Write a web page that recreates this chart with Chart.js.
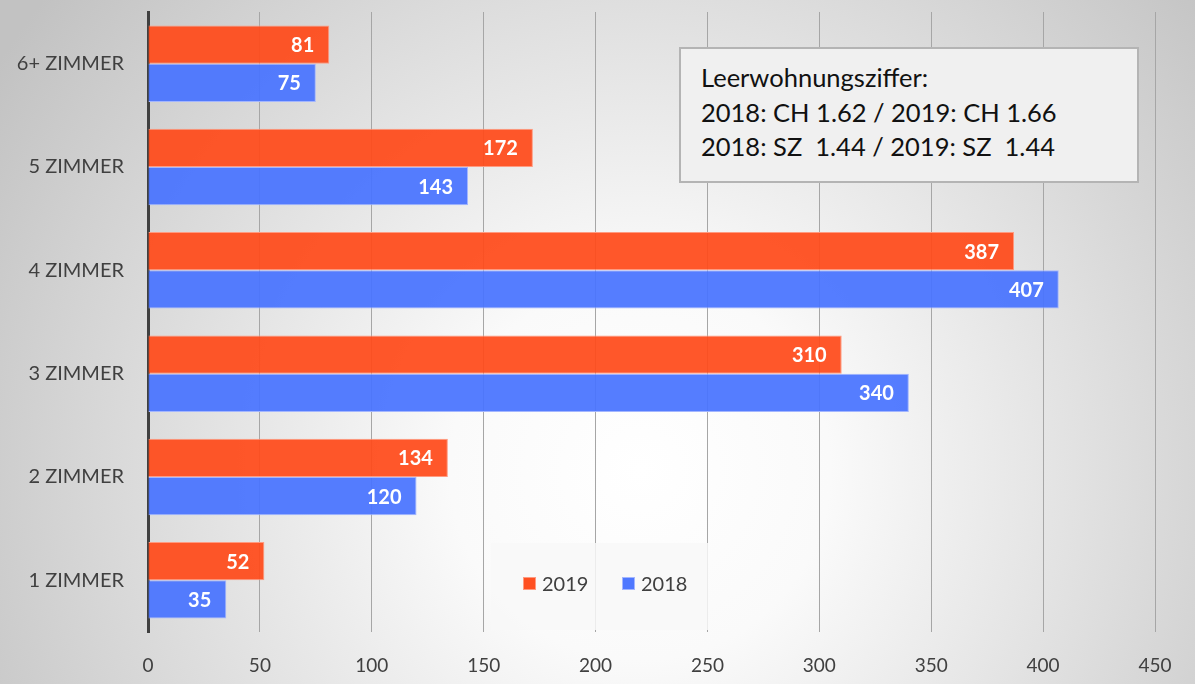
<!DOCTYPE html>
<html lang="de">
<head>
<meta charset="utf-8">
<title>Leerwohnungen nach Zimmerzahl</title>
<script src="https://cdn.jsdelivr.net/npm/chart.js@4/dist/chart.umd.min.js"></script>
<style>
  html, body { margin: 0; padding: 0; background: #fff; }
  #wrap { position: relative; width: 1195px; height: 684px; }
  #notiz {
    position: absolute; left: 679px; top: 47px; width: 460px; height: 136px;
    background: #f0f0f0; border: 2px solid #b4b4b4; box-sizing: border-box;
    font-family: Lato, "Open Sans", sans-serif; font-size: 25.5px; line-height: 34.5px;
    color: #111; padding: 11px 0 0 20px;
  }
</style>
</head>
<body>
<div id="wrap">
  <canvas id="g-zimmer" width="1195" height="684"></canvas>
  <div id="notiz"></div>
</div>
<script>
// Leerstehende Wohnungen nach Zimmerzahl, 2019 vs 2018
const kategorien = ['6+ ZIMMER', '5 ZIMMER', '4 ZIMMER', '3 ZIMMER', '2 ZIMMER', '1 ZIMMER'];
const werte2019 = [81, 172, 387, 310, 134, 52];
const werte2018 = [75, 143, 407, 340, 120, 35];
const xTicks = [0, 50, 100, 150, 200, 250, 300, 350, 400, 450];
const notizZeilen = [
  'Leerwohnungsziffer:',
  '2018: CH 1.62 / 2019: CH 1.66',
  '2018: SZ\u00a0 1.44 / 2019: SZ\u00a0 1.44',
];

const SCHRIFT = 'Lato, "Open Sans", sans-serif';
const GRAU = '#404040';

document.getElementById('notiz').innerHTML = notizZeilen.join('<br>');

// Hintergrund: grauer Verlauf, in der Mitte hell
const hintergrund = {
  id: 'hintergrund',
  beforeDraw(chart) {
    const { ctx, width, height } = chart;
    const g = ctx.createRadialGradient(640, 470, 0, 640, 470, 760);
    g.addColorStop(0, '#ffffff');
    g.addColorStop(0.25, '#fafafa');
    g.addColorStop(1, '#c2c2c2');
    ctx.save();
    ctx.fillStyle = g;
    ctx.fillRect(0, 0, width, height);
    ctx.restore();
  }
};

// Werte weiss und fett innen am Balkenende
const werteLabels = {
  id: 'werteLabels',
  afterDatasetsDraw(chart) {
    const { ctx } = chart;
    ctx.save();
    ctx.font = 'bold 20px ' + SCHRIFT;
    ctx.fillStyle = '#fff';
    ctx.textAlign = 'right';
    ctx.textBaseline = 'middle';
    chart.data.datasets.forEach((ds, i) => {
      chart.getDatasetMeta(i).data.forEach((bar, j) => {
        ctx.fillText(String(ds.data[j]), bar.x - 15, bar.y + 1);
      });
    });
    ctx.restore();
  }
};

// Legende im Diagramm unten in der Mitte
const legendeInnen = {
  id: 'legendeInnen',
  afterDatasetsDraw(chart) {
    const { ctx } = chart;
    const x0 = 491, y0 = 543, b = 217, h = 87;
    ctx.save();
    ctx.fillStyle = 'rgba(248,248,248,0.85)';
    ctx.fillRect(x0, y0, b, h);
    ctx.font = '20px ' + SCHRIFT;
    ctx.textBaseline = 'middle';
    ctx.textAlign = 'left';
    const pos = [523, 622];
    chart.data.datasets.forEach((ds, i) => {
      const x = pos[i], y = 584;
      ctx.fillStyle = ds.borderColor;
      ctx.fillRect(x, y - 7, 13, 13);
      ctx.fillStyle = ds.backgroundColor;
      ctx.fillRect(x + 1, y - 6, 11, 11);
      ctx.fillStyle = GRAU;
      ctx.fillText(ds.label, x + 19, y + 1);
    });
    ctx.restore();
  }
};

new Chart(document.getElementById('g-zimmer'), {
  type: 'bar',
  data: {
    labels: kategorien,
    datasets: [
      { label: '2019', data: werte2019, backgroundColor: 'rgba(255,74,26,0.93)', borderColor: '#ff9a80', borderWidth: 1 },
      { label: '2018', data: werte2018, backgroundColor: 'rgba(72,115,255,0.93)', borderColor: '#a3b6ff', borderWidth: 1 },
    ],
  },
  options: {
    indexAxis: 'y',
    responsive: false,
    animation: false,
    layout: { padding: { top: 12, right: 40, left: 0, bottom: 0 } },
    datasets: { bar: { categoryPercentage: 0.74, barPercentage: 1 } },
    plugins: { legend: { display: false }, tooltip: { enabled: false } },
    scales: {
      x: {
        min: 0, max: 450,
        afterBuildTicks: (s) => { s.ticks = xTicks.map(v => ({ value: v })); },
        afterFit: (s) => { s.height = 52; s.paddingLeft = 0; s.paddingRight = 0; },
        grid: { color: '#a6a6a6', lineWidth: 1, drawTicks: false },
        border: { display: false },
        ticks: { color: GRAU, font: { family: SCHRIFT, size: 19 }, padding: 22 },
      },
      y: {
        afterFit: (s) => { s.width = 148; s.paddingTop = 0; s.paddingBottom = 0; },
        grid: { display: false },
        border: { display: true, color: '#404040', width: 3 },
        ticks: { color: GRAU, font: { family: SCHRIFT, size: 20 }, padding: 16 },
      },
    },
  },
  plugins: [hintergrund, werteLabels, legendeInnen],
});
</script>
</body>
</html>
